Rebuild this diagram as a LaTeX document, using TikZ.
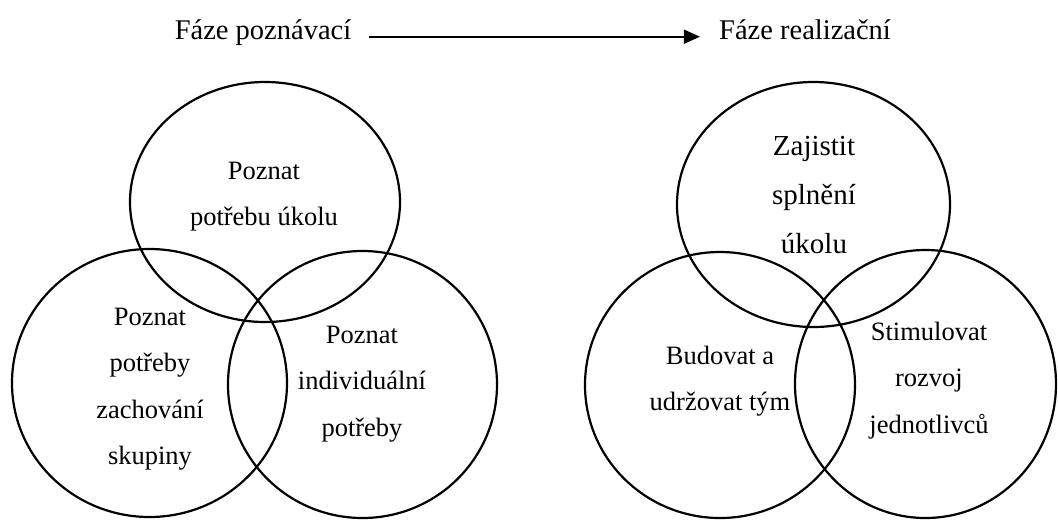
\documentclass[tikz,border=0pt]{standalone}
\usepackage{fontspec}
\setmainfont{Liberation Serif}
\usetikzlibrary{arrows.meta}

\tikzset{
  ring/.style={line width=2.2pt, black},
  circtext/.style={align=center, inner sep=0pt, anchor=north,
    font=\fontsize{26.5}{46.5}\selectfont},
  bigtext/.style={circtext, font=\fontsize{29}{49}\selectfont},
  phase/.style={inner sep=0pt, anchor=base, font=\fontsize{28.5}{34}\selectfont},
  flow/.style={line width=1.6pt, -{Triangle[length=16pt,width=14pt]}}
}

\begin{document}
\begin{tikzpicture}[x=1pt, y=-1pt]
  \fill[white] (0,0) rectangle (1058,520);
  \useasboundingbox (0,0) rectangle (1058,520);

  % phase headings and the arrow between them
  \node[phase] (know) at (263,39) {Fáze poznávací};
  \node[phase] (act)  at (805,39) {Fáze realizační};
  \draw[flow, shorten <=18pt, shorten >=19pt] (know.mid east) -- (act.mid west);

  % first phase: three overlapping circles
  \draw[ring] (265,202)   ellipse [x radius=135pt,   y radius=120pt];
  \draw[ring] (149.5,383) ellipse [x radius=137.5pt, y radius=134pt];
  \draw[ring] (362.5,384.5) ellipse [x radius=134.5pt, y radius=133.5pt];

  \node[circtext] (task1) at (264,146.45) {\strut Poznat\\\strut potřebu úkolu};
  \node[circtext] (group1) at (150,292.45)
    {\strut Poznat\\\strut potřeby\\\strut zachování\\\strut skupiny};
  \node[circtext] (indiv1) at (362,310.45)
    {\strut Poznat\\\strut individuální\\\strut potřeby};

  % second phase: three overlapping circles
  \draw[ring] (813.5,204.5) ellipse [x radius=136.5pt, y radius=122.5pt];
  \draw[ring] (720,385)     ellipse [x radius=135pt,   y radius=133pt];
  \draw[ring] (925.5,384)   ellipse [x radius=130.5pt, y radius=134pt];

  \node[bigtext] (task2) at (814,120.7) {\strut Zajistit\\\strut splnění\\\strut úkolu};
  \node[circtext] (group2) at (720,331.45) {\strut Budovat a\\\strut udržovat tým};
  \node[circtext] (indiv2) at (929,307.45)
    {\strut Stimulovat\\\strut rozvoj\\\strut jednotlivců};
\end{tikzpicture}
\end{document}
